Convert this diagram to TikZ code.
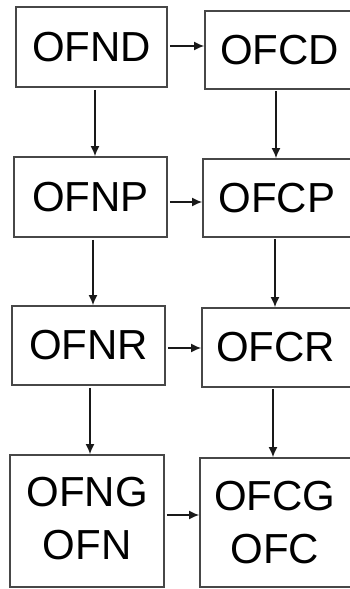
\documentclass[tikz,border=0pt]{standalone}
\usepackage{fontspec}
\setmainfont{Liberation Sans}
\usetikzlibrary{arrows.meta}
\tikzset{
  box/.style={draw=black!72, line width=1.8pt, inner sep=0pt, align=center,
    font=\fontsize{42}{53}\selectfont},
  arr/.style={draw=black!90, line width=1.5pt,
    -{Latex[length=10pt,width=9pt]}, shorten <=2pt},
}
\begin{document}
\begin{tikzpicture}[x=1pt,y=-1pt]
\clip (0,0) rectangle (350,589);
\fill[white] (0,0) rectangle (350,589);

% left column
\node[box, minimum width=151pt, minimum height=80pt] (ofnd) at (91.5,47) {OFND};
\node[box, minimum width=153pt, minimum height=80pt] (ofnp) at (90.5,197) {OFNP};
\node[box, minimum width=153pt, minimum height=79pt] (ofnr) at (88.5,345.5) {OFNR};
\node[box, minimum width=154pt, minimum height=132pt, text depth=6pt] (ofng) at (87,521) {OFNG\\OFN};

% right column (running past the right edge)
\node[box, minimum width=160pt, minimum height=78pt, text width=160pt] (ofcd) at (285,50) {\hspace*{-11pt}OFCD};
\node[box, minimum width=160pt, minimum height=78pt, text width=160pt] (ofcp) at (283,198) {\hspace*{-12.5pt}OFCP};
\node[box, minimum width=160pt, minimum height=79pt, text width=160pt] (ofcr) at (282,347.5) {\hspace*{-12.5pt}OFCR};
\node[box, minimum width=160pt, minimum height=129pt, text width=160pt] (ofcg) at (280,522.5) {\hspace*{-10.5pt}OFCG\\\hspace*{-10.5pt}OFC};

% horizontal links
\draw[arr] ([yshift=1pt]ofnd.east) -- ([yshift=1pt]ofnd.east -| ofcd.west);
\draw[arr] ([yshift=-5pt]ofnp.east) -- ([yshift=-5pt]ofnp.east -| ofcp.west);
\draw[arr] ([yshift=-2.5pt]ofnr.east) -- ([yshift=-2.5pt]ofnr.east -| ofcr.west);
\draw[arr] ([yshift=6pt]ofng.east) -- ([yshift=6pt]ofng.east -| ofcg.west);

% vertical links, left column
\draw[arr] ([xshift=3.5pt]ofnd.south) -- ([xshift=3.5pt]ofnd.south |- ofnp.north);
\draw[arr] ([xshift=2.5pt]ofnp.south) -- ([xshift=2.5pt]ofnp.south |- ofnr.north);
\draw[arr] ([xshift=1.5pt]ofnr.south) -- ([xshift=1.5pt]ofnr.south |- ofng.north);

% vertical links, right column
\draw[arr] (276,89) coordinate (cd) -- (cd |- ofcp.north);
\draw[arr] (275,237) coordinate (cp) -- (cp |- ofcr.north);
\draw[arr] (273,387) coordinate (cr) -- (cr |- ofcg.north);
\end{tikzpicture}
\end{document}
